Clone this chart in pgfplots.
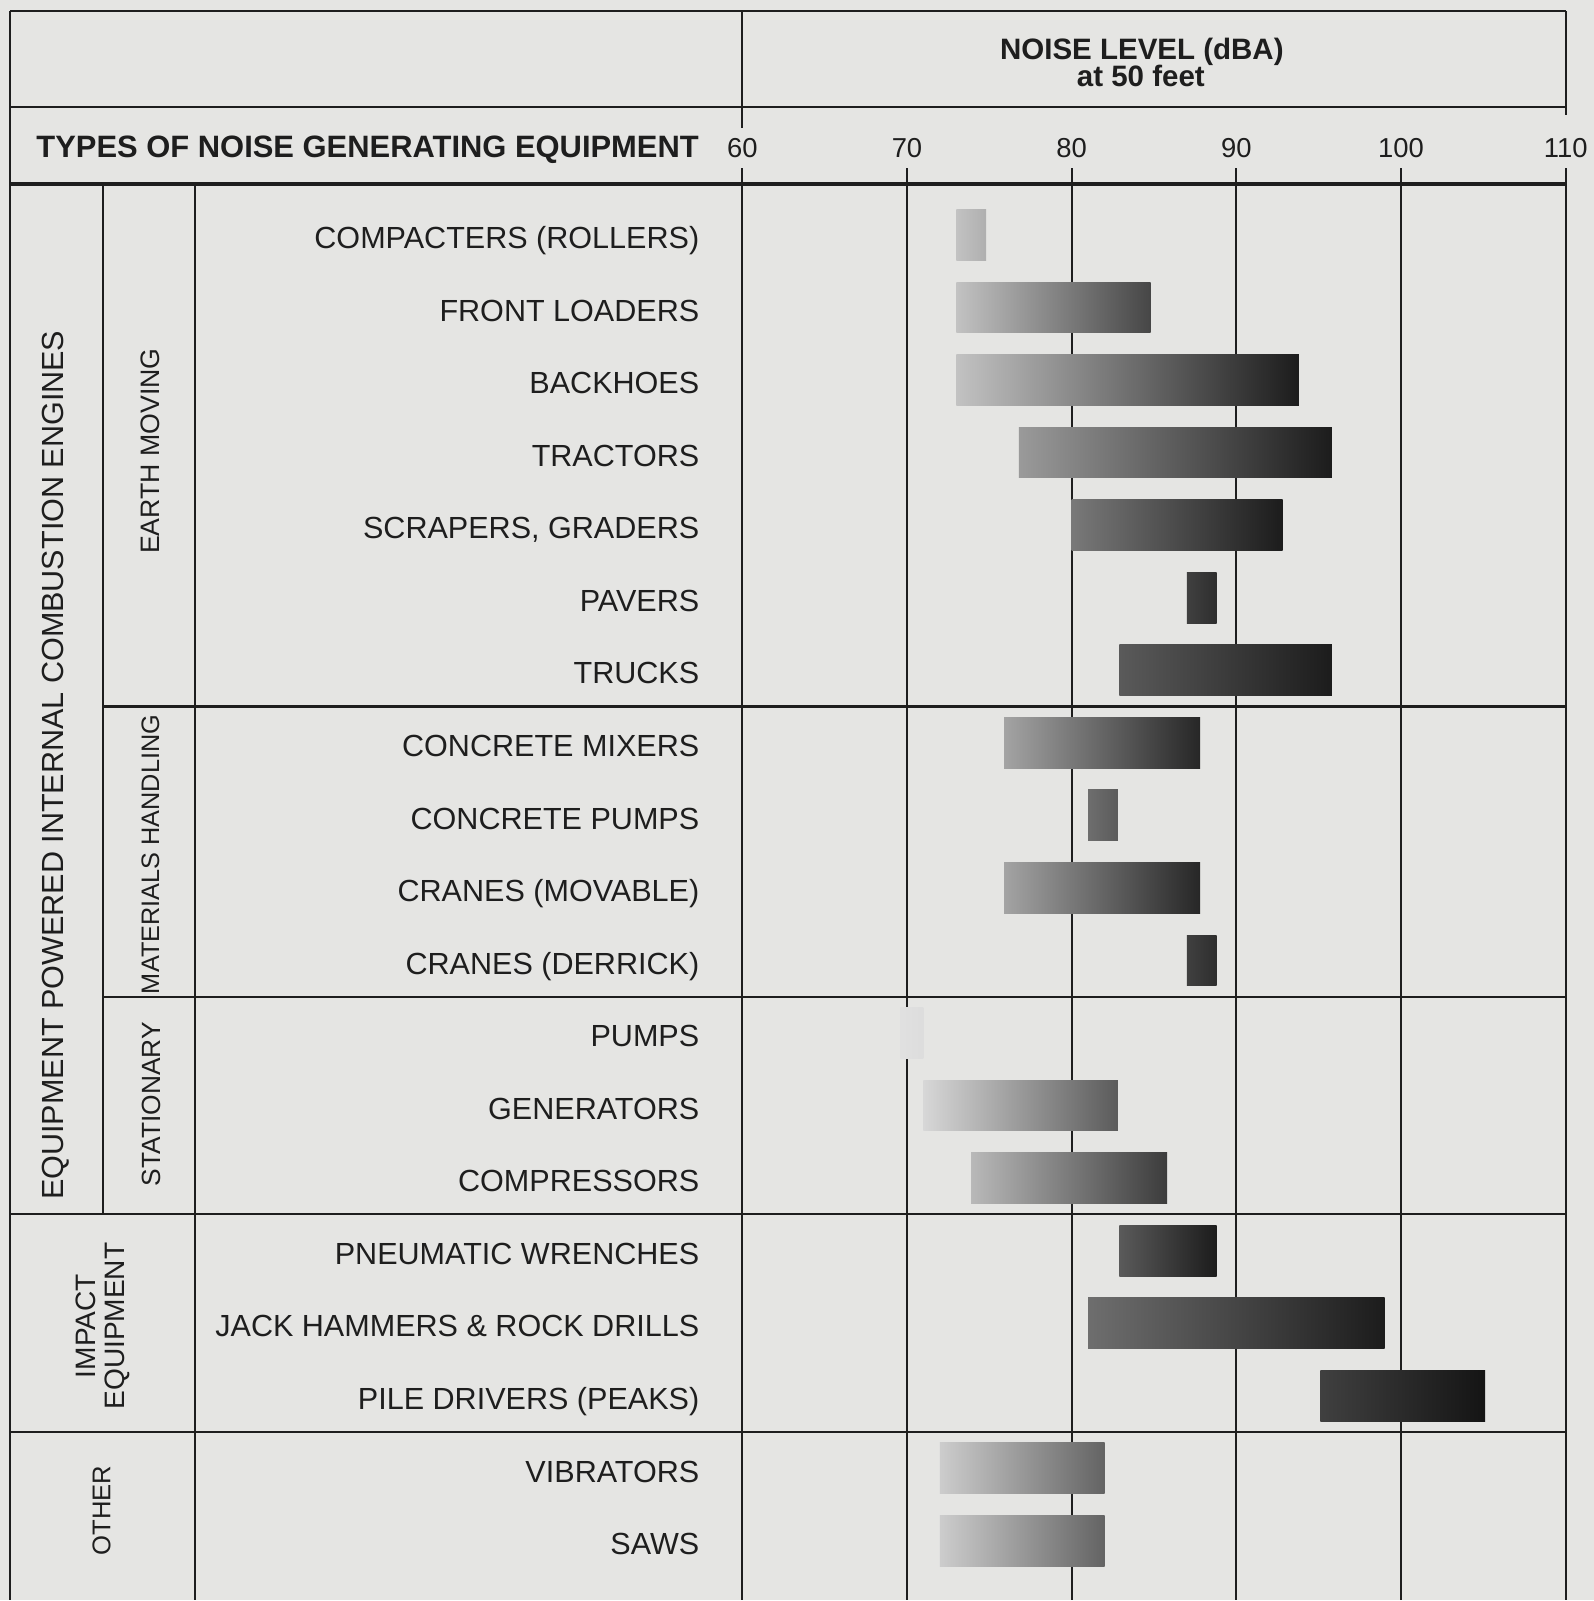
\documentclass[border=0pt]{standalone}
\usepackage{pgfplots}
\pgfplotsset{compat=1.18}
\usepackage{fontspec}
\setmainfont{Liberation Sans}
\definecolor{paper}{RGB}{229,229,227}
\definecolor{ink}{RGB}{30,30,30}
\newcommand\lbl{\fontsize{8.7}{10}\selectfont}
\newcommand\num{\fontsize{7.8}{9}\selectfont}
\begin{document}
\begin{tikzpicture}[every node/.style={inner sep=0pt, text=ink}]
\begin{axis}[
  width=15.95cm, height=16.01cm, scale only axis,
  xmin=14.93, xmax=111.71, ymin=-3.237, ymax=18.815, y dir=reverse,
  axis line style={draw=none}, ticks=none, clip=false,
  axis background/.style={fill=paper},
]
% ---------- frame and grid ----------
\draw[ink, line width=0.6pt] (axis cs:15.55,-3.085) -- (axis cs:110,-3.085);
\draw[ink, line width=0.6pt] (axis cs:15.55,-1.763) -- (axis cs:110,-1.763);
\draw[ink, line width=1.3pt] (axis cs:15.55,-0.70) -- (axis cs:110,-0.70);
\draw[ink, line width=0.6pt] (axis cs:15.55,-3.085) -- (axis cs:15.55,18.815);
\draw[ink, line width=0.6pt] (axis cs:21.18,-0.70) -- (axis cs:21.18,13.5);
\draw[ink, line width=0.6pt] (axis cs:26.76,-0.70) -- (axis cs:26.76,18.815);
\draw[ink, line width=0.6pt] (axis cs:60,-3.085) -- (axis cs:60,-1.47);
\draw[ink, line width=0.6pt] (axis cs:60,-0.92) -- (axis cs:60,18.815);
\draw[ink, line width=0.6pt] (axis cs:110,-3.085) -- (axis cs:110,-1.65);
\foreach \g in {70,80,90,100,110}{
  \edef\tmp{\noexpand\draw[ink, line width=0.6pt] (axis cs:\g,-0.92) -- (axis cs:\g,18.815);}\tmp
}
\draw[ink, line width=0.6pt] (axis cs:21.18,6.5) -- (axis cs:110,6.5);
\draw[ink, line width=0.6pt] (axis cs:21.18,10.5) -- (axis cs:110,10.5);
\draw[ink, line width=0.6pt] (axis cs:15.55,13.5) -- (axis cs:110,13.5);
\draw[ink, line width=0.6pt] (axis cs:15.55,16.5) -- (axis cs:110,16.5);

% ---------- bars (low dBA, high dBA) ----------
\addplot[draw=none, left color=black!23.9, right color=black!31.3] coordinates {(73,-0.35) (74.8,-0.35) (74.8,0.35) (73,0.35)} -- cycle;
\addplot[draw=none, left color=black!23.9, right color=black!72.5] coordinates {(73,0.65) (84.8,0.65) (84.8,1.35) (73,1.35)} -- cycle;
\addplot[draw=none, left color=black!23.9, right color=black!89] coordinates {(73,1.65) (93.8,1.65) (93.8,2.35) (73,2.35)} -- cycle;
\addplot[draw=none, left color=black!39.6, right color=black!89] coordinates {(76.8,2.65) (95.8,2.65) (95.8,3.35) (76.8,3.35)} -- cycle;
\addplot[draw=none, left color=black!52.7, right color=black!89] coordinates {(80,3.65) (92.8,3.65) (92.8,4.35) (80,4.35)} -- cycle;
\addplot[draw=none, left color=black!75, right color=black!82] coordinates {(87,4.65) (88.8,4.65) (88.8,5.35) (87,5.35)} -- cycle;
\addplot[draw=none, left color=black!64.7, right color=black!89] coordinates {(82.9,5.65) (95.8,5.65) (95.8,6.35) (82.9,6.35)} -- cycle;
\addplot[draw=none, left color=black!35.9, right color=black!84.9] coordinates {(75.9,6.65) (87.8,6.65) (87.8,7.35) (75.9,7.35)} -- cycle;
\addplot[draw=none, left color=black!56.9, right color=black!64.3] coordinates {(81,7.65) (82.8,7.65) (82.8,8.35) (81,8.35)} -- cycle;
\addplot[draw=none, left color=black!35.9, right color=black!84.9] coordinates {(75.9,8.65) (87.8,8.65) (87.8,9.35) (75.9,9.35)} -- cycle;
\addplot[draw=none, left color=black!75, right color=black!82] coordinates {(87,9.65) (88.8,9.65) (88.8,10.35) (87,10.35)} -- cycle;
\addplot[draw=none, left color=black!12, right color=black!13.5] coordinates {(69.6,10.65) (71,10.65) (71,11.35) (69.6,11.35)} -- cycle;
\addplot[draw=none, left color=black!15.7, right color=black!64.3] coordinates {(71,11.65) (82.8,11.65) (82.8,12.35) (71,12.35)} -- cycle;
\addplot[draw=none, left color=black!27.6, right color=black!76.6] coordinates {(73.9,12.65) (85.8,12.65) (85.8,13.35) (73.9,13.35)} -- cycle;
\addplot[draw=none, left color=black!64.7, right color=black!89] coordinates {(82.9,13.65) (88.8,13.65) (88.8,14.35) (82.9,14.35)} -- cycle;
\addplot[draw=none, left color=black!56.9, right color=black!89] coordinates {(81,14.65) (99,14.65) (99,15.35) (81,15.35)} -- cycle;
\addplot[draw=none, left color=black!75, right color=black!92] coordinates {(95.1,15.65) (105.1,15.65) (105.1,16.35) (95.1,16.35)} -- cycle;
\addplot[draw=none, left color=black!19.8, right color=black!61] coordinates {(72,16.65) (82,16.65) (82,17.35) (72,17.35)} -- cycle;
\addplot[draw=none, left color=black!19.8, right color=black!61] coordinates {(72,17.65) (82,17.65) (82,18.35) (72,18.35)} -- cycle;

% ---------- headers ----------
\node[anchor=base, font=\fontsize{8.4}{10}\selectfont\bfseries] at (axis cs:84.26,-2.42) {NOISE LEVEL (dBA)};
\node[anchor=base, font=\fontsize{8.4}{10}\selectfont\bfseries] at (axis cs:84.2,-2.04) {at 50 feet};
\node[anchor=base east, font=\fontsize{8.8}{10}\selectfont\bfseries] at (axis cs:57.4,-1.06) {TYPES OF NOISE GENERATING EQUIPMENT};
\foreach \g in {60,70,80,90,100,110}{
  \edef\tmp{\noexpand\node[anchor=base, font=\noexpand\num] at (axis cs:\g,-1.06) {\g};}\tmp
}

% ---------- row labels ----------
\node[anchor=base east, font=\lbl] at (axis cs:57.43,0.19) {COMPACTERS (ROLLERS)};
\node[anchor=base east, font=\lbl] at (axis cs:57.43,1.19) {FRONT LOADERS};
\node[anchor=base east, font=\lbl] at (axis cs:57.43,2.19) {BACKHOES};
\node[anchor=base east, font=\lbl] at (axis cs:57.43,3.19) {TRACTORS};
\node[anchor=base east, font=\lbl] at (axis cs:57.43,4.19) {SCRAPERS, GRADERS};
\node[anchor=base east, font=\lbl] at (axis cs:57.43,5.19) {PAVERS};
\node[anchor=base east, font=\lbl] at (axis cs:57.43,6.19) {TRUCKS};
\node[anchor=base east, font=\lbl] at (axis cs:57.43,7.19) {CONCRETE MIXERS};
\node[anchor=base east, font=\lbl] at (axis cs:57.43,8.19) {CONCRETE PUMPS};
\node[anchor=base east, font=\lbl] at (axis cs:57.43,9.19) {CRANES (MOVABLE)};
\node[anchor=base east, font=\lbl] at (axis cs:57.43,10.19) {CRANES (DERRICK)};
\node[anchor=base east, font=\lbl] at (axis cs:57.43,11.19) {PUMPS};
\node[anchor=base east, font=\lbl] at (axis cs:57.43,12.19) {GENERATORS};
\node[anchor=base east, font=\lbl] at (axis cs:57.43,13.19) {COMPRESSORS};
\node[anchor=base east, font=\lbl] at (axis cs:57.43,14.19) {PNEUMATIC WRENCHES};
\node[anchor=base east, font=\lbl] at (axis cs:57.43,15.19) {JACK HAMMERS \& ROCK DRILLS};
\node[anchor=base east, font=\lbl] at (axis cs:57.43,16.19) {PILE DRIVERS (PEAKS)};
\node[anchor=base east, font=\lbl] at (axis cs:57.43,17.19) {VIBRATORS};
\node[anchor=base east, font=\lbl] at (axis cs:57.43,18.19) {SAWS};

% ---------- group labels ----------
\node[rotate=90, font=\fontsize{8.7}{10}\selectfont] at (axis cs:18.33,7.31) {EQUIPMENT POWERED INTERNAL COMBUSTION ENGINES};
\node[rotate=90, font=\fontsize{7.6}{9}\selectfont] at (axis cs:24.06,2.98) {EARTH MOVING};
\node[rotate=90, font=\fontsize{7.2}{9}\selectfont] at (axis cs:24.06,8.54) {MATERIALS HANDLING};
\node[rotate=90, font=\fontsize{7.5}{9}\selectfont] at (axis cs:24.1,11.98) {STATIONARY};
\node[rotate=90, align=center, font=\fontsize{8}{8.3}\selectfont] at (axis cs:21.2,15.04) {IMPACT\\EQUIPMENT};
\node[rotate=90, font=\fontsize{7.3}{9}\selectfont] at (axis cs:21.1,17.58) {OTHER};
\end{axis}
\end{tikzpicture}
\end{document}
